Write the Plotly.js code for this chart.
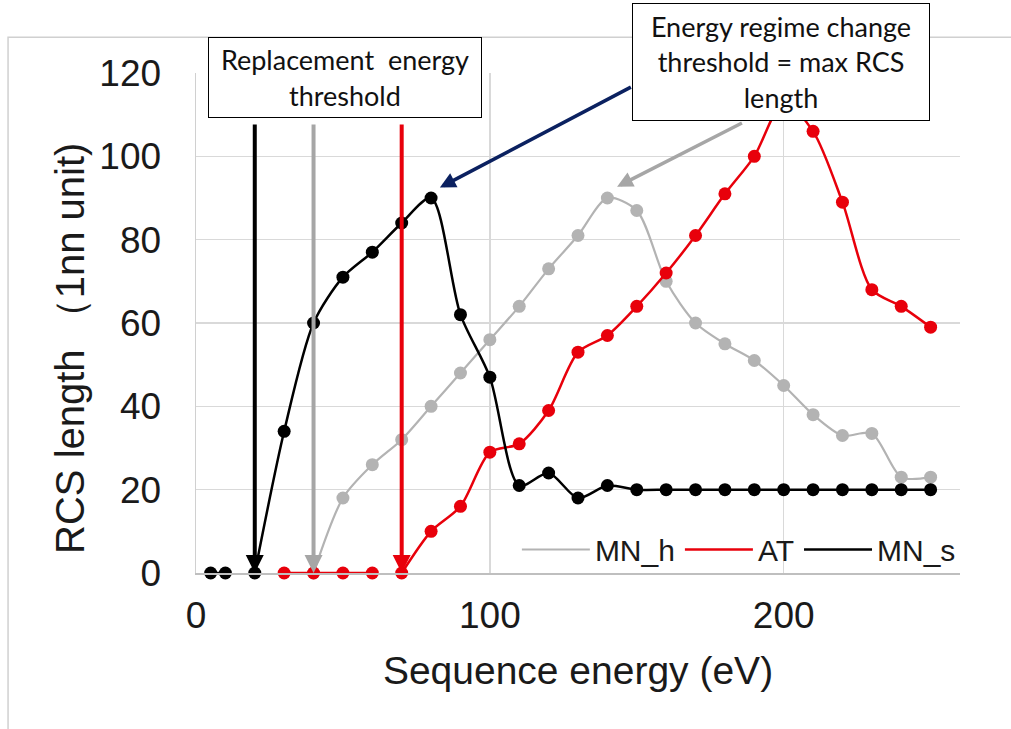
<!DOCTYPE html>
<html>
<head>
<meta charset="utf-8">
<script src="https://cdn.plot.ly/plotly-3.0.1.min.js"></script>
<style>html,body{margin:0;padding:0;background:#fff;}#chart{width:1011px;height:729px;}</style>
</head>
<body>
<div id="chart"></div>
<script>
// ---- data ----
var energyMNh = [40,50,60,70,80,90,100,110,120,130,140,150,160,170,180,190,200,210,220,230,240,250];
var lengthMNh = [0,18,26,32,40,48,56,64,73,81,90,87,70,60,55,51,45,38,33,33.5,23,23];

var energyAT = [30,40,50,60,65,70,80,90,100,110,120,130,140,150,160,170,180,190,200,210,220,230,240,250];
var lengthAT = [0,0,0,0,null,0,10,16,29,31,39,53,57,64,72,81,91,100,113,106,89,68,64,59];

var energyMNs = [5,10,15,20,30,40,50,60,70,80,90,100,110,120,130,140,150,160,170,180,190,200,210,220,230,240,250];
var lengthMNs = [0,0,null,0,34,60,71,77,84,90,62,47,21,24,18,21,20,20,20,20,20,20,20,20,20,20,20];

var seriesNames = ["MN_h","AT","MN_s"];
var seriesColors = ["#b3b3b3","#e8000b","#000000"];

// replacement energy thresholds (x) for MN_s, MN_h, AT
var thresholdEnergy = [20, 40, 70];
var thresholdColors = ["#000000","#a6a6a6","#e8000b"];
var thresholdTop = 108;

// peaks (energy regime change = max RCS length)
var peakMNs = {x: 80, y: 90};
var peakMNh = {x: 140, y: 90};

var xTicks = [0,100,200];
var yTicks = [0,20,40,60,80,100,120];

var boxReplacement = ["Replacement&nbsp;&nbsp;energy","threshold"];
var boxRegime = ["Energy regime change","threshold = max RCS","length"];
var xTitle = "Sequence energy (eV)";
var yTitle = "RCS length （1nn unit)";

// ---- traces ----
var xs = [energyMNh, energyAT, energyMNs];
var ys = [lengthMNh, lengthAT, lengthMNs];
var widths = [2.2, 2.5, 2.5];
var traces = [];
for (var i = 0; i < 3; i++) {
  traces.push({
    x: xs[i], y: ys[i], type: "scatter", mode: "lines",
    name: seriesNames[i], showlegend: true, connectgaps: false,
    line: {color: seriesColors[i], width: widths[i], shape: "spline", smoothing: 0.8},
    cliponaxis: false, hoverinfo: "skip"
  });
  traces.push({
    x: xs[i], y: ys[i], type: "scatter", mode: "markers",
    name: seriesNames[i], showlegend: false,
    marker: {color: seriesColors[i], size: 13},
    cliponaxis: false
  });
}

// ---- annotations ----
var ann = [];
for (var k = 0; k < thresholdEnergy.length; k++) {
  ann.push({
    x: thresholdEnergy[k], y: 0, xref: "x", yref: "y",
    ax: thresholdEnergy[k], ay: thresholdTop, axref: "x", ayref: "y",
    text: "", showarrow: true, arrowhead: 2, arrowsize: 0.9, arrowwidth: 4,
    arrowcolor: thresholdColors[k], standoff: 0
  });
}
ann.push({
  x: peakMNs.x + 3, y: peakMNs.y + 2.5, xref: "x", yref: "y",
  ax: 148.5, ay: 116.8, axref: "x", ayref: "y",
  text: "", showarrow: true, arrowhead: 2, arrowsize: 0.9, arrowwidth: 3.5,
  arrowcolor: "#0b2160", standoff: 0
});
ann.push({
  x: peakMNh.x + 3.3, y: peakMNh.y + 2.7, xref: "x", yref: "y",
  ax: 186.3, ay: 108.2, axref: "x", ayref: "y",
  text: "", showarrow: true, arrowhead: 2, arrowsize: 0.9, arrowwidth: 3.5,
  arrowcolor: "#a6a6a6", standoff: 0
});
var boxFont = {family: "Lato, 'Open Sans', sans-serif", size: 27, color: "#111"};
ann.push({
  x: 0.195, y: 0.9905, xref: "paper", yref: "paper", xanchor: "center", yanchor: "middle",
  text: boxReplacement.join("<br>"), showarrow: false, font: boxFont,
  bgcolor: "#ffffff", bordercolor: "#000000", borderwidth: 1, borderpad: 0,
  width: 272, height: 79, align: "center"
});
ann.push({
  x: 0.766, y: 1.0214, xref: "paper", yref: "paper", xanchor: "center", yanchor: "middle",
  text: boxRegime.join("<br>"), showarrow: false, font: boxFont,
  bgcolor: "#ffffff", bordercolor: "#000000", borderwidth: 1, borderpad: 0,
  width: 296, height: 116, align: "center"
});

var tickFont = {family: "'Liberation Sans', Arial, sans-serif", size: 37, color: "#1a1a1a"};
var titleFont = {family: "'Liberation Sans', Arial, sans-serif", size: 39, color: "#1a1a1a"};

// y axis title (placed as a rotated annotation so its position can match)
ann.push({
  x: -0.165, y: 0.450, xref: "paper", yref: "paper", xanchor: "center", yanchor: "middle",
  text: yTitle, textangle: -90, showarrow: false,
  font: {family: "'Liberation Sans', Arial, sans-serif", size: 40, color: "#1a1a1a"}
});

var layout = {
  width: 1011, height: 729,
  margin: {l: 196, r: 51, t: 73, b: 156},
  paper_bgcolor: "#ffffff", plot_bgcolor: "#ffffff",
  font: tickFont,
  showlegend: true,
  legend: {
    orientation: "h", x: 0.42, xanchor: "left", y: 0.047, yanchor: "middle",
    bgcolor: "rgba(0,0,0,0)", font: {family: "'Liberation Sans', Arial, sans-serif", size: 30, color: "#1a1a1a"},
    itemwidth: 68
  },
  xaxis: {
    range: [0, 260], tickvals: xTicks, ticktext: xTicks.map(String),
    showgrid: true, gridcolor: "#d9d9d9", gridwidth: 1.5,
    zeroline: false,
    showline: true, linecolor: "#bfbfbf", linewidth: 1.5,
    ticks: "", ticklabelstandoff: 9, tickfont: tickFont,
    title: {text: xTitle, font: titleFont, standoff: 22},
    fixedrange: true
  },
  yaxis: {
    range: [0, 120], tickvals: yTicks, ticktext: yTicks.map(String),
    showgrid: true, gridcolor: "#d9d9d9", gridwidth: 1.5,
    zeroline: false, showline: true, linecolor: "#d0d0d0", linewidth: 1.5,
    ticks: "", ticklabelstandoff: 26, tickfont: tickFont,
    fixedrange: true
  },
  annotations: ann,
  shapes: [{
    type: "rect", xref: "paper", yref: "paper",
    x0: -0.246, x1: 1.08, y0: -0.33, y1: 1.0713,
    line: {color: "#d0d0d0", width: 1.5}, fillcolor: "rgba(0,0,0,0)", layer: "below"
  }]
};

Plotly.newPlot("chart", traces, layout, {staticPlot: true, displayModeBar: false});
</script>
</body>
</html>
